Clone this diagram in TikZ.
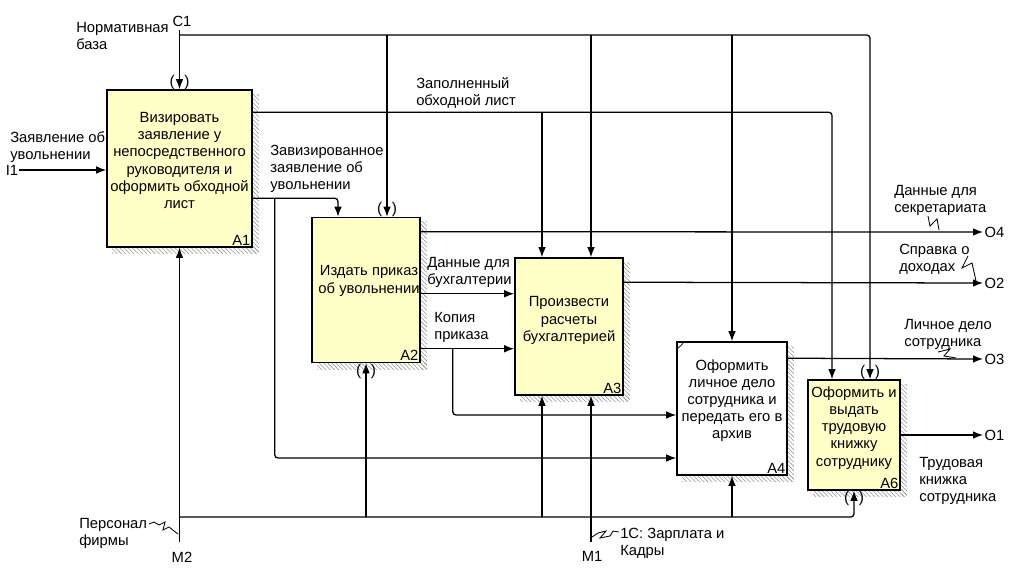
\documentclass[tikz,border=0pt]{standalone}
\usepackage{fontspec}
\setmainfont{Liberation Sans}
\usetikzlibrary{arrows.meta,calc,patterns,positioning,backgrounds}
\definecolor{idefyellow}{RGB}{255,255,200}
\tikzset{
  box/.style={draw, line width=1.1pt, fill=idefyellow, inner sep=0pt},
  boxtext/.style={align=center, inner sep=0pt},
  lbl/.style={align=left, anchor=north west, inner sep=0pt},
  idx/.style={anchor=south east, inner sep=1.5pt},
  flow/.style={line width=0.9pt, -{Latex[length=2.5mm,width=1.9mm]}, rounded corners=0.8mm},
  tunnel/.style={inner sep=0pt, font=\fontsize{11}{11}\selectfont},
  hatch/.style={pattern=north west lines, pattern color=gray!80},
  squig/.style={line width=0.6pt},
}

\begin{document}
\begin{tikzpicture}[x=0.25mm, y=-0.25mm, font=\fontsize{10.5}{12.2}\selectfont]
\useasboundingbox (0,0) rectangle (1010,571);

% functions
\node[box, minimum width=36.25mm, minimum height=39.25mm] (A1) at (179.5,168.5) {};
\node[box, minimum width=27mm, minimum height=36.25mm] (A2) at (366,290) {};
\node[box, minimum width=27mm, minimum height=34.25mm] (A3) at (569,326.5) {};
\node[box, fill=white, minimum width=27.5mm, minimum height=33.25mm] (A4) at (732,408.5) {};
\node[box, minimum width=23mm, minimum height=27.5mm] (A6) at (854,435) {};

\begin{scope}[on background layer]
  \foreach \b in {A1,A2,A3,A4,A6} {
    \fill[hatch] ($(\b.north east)+(0,5)$) rectangle ($(\b.south east)+(6,6)$);
    \fill[hatch] ($(\b.south west)+(6,0)$) rectangle ($(\b.south east)+(6,6)$);
  }
\end{scope}

\node[boxtext] (t1) at ($(A1.center)+(0,-8)$) {Визировать\\заявление у\\непосредственного\\руководителя и\\оформить обходной\\лист};
\node[boxtext] (t2) at ($(A2.center)+(3,-9)$) {Издать приказ\\об увольнении};
\node[boxtext] (t3) at ($(A3.center)+(0,-6)$) {Произвести\\расчеты\\бухгалтерией};
\node[boxtext] (t4) at ($(A4.center)+(0,-8)$) {Оформить\\личное дело\\сотрудника и\\передать его в\\архив};
\node[boxtext] (t6) at ($(A6.center)+(0,-7)$) {Оформить и\\выдать\\трудовую\\книжку\\сотруднику};
\foreach \b in {A1,A2,A3,A4,A6}
  \node[idx] at (\b.south east) {\b};
\draw[line width=0.5pt] ($(A4.north west)+(2,7)$) -- ($(A4.north west)+(7,2)$);

% boundary points
\coordinate (c1) at (179.5,30);
\coordinate (c1j) at (179.5,35);
\coordinate (i1) at (19,170);
\coordinate (m2) at (179.5,542);
\coordinate (m2j) at (179.5,517);
\coordinate (m1) at (591,542);
\coordinate (o4) at (983,232);
\coordinate (o2) at (983,283);
\coordinate (o3) at (983,359);
\coordinate (o1) at (983,435);

% controls
\draw[flow] (c1) -- (A1.north);
\draw[flow] (c1j) -| ($(A6.north)+(16,0)$);
\foreach \b/\dx in {A2/21, A3/22, A4/0}
  \draw[flow] ($(\b.north |- c1j)+(\dx,0)$) -- ($(\b.north)+(\dx,0)$);

% inputs and outputs
\draw[flow] (i1) -- (i1 -| A1.west);
\coordinate (fill) at ($(A1.north east)+(0,23)$);
\draw[flow] (fill) -| ($(A6.north)+(-22,0)$);
\draw[flow] ($(A3.north |- fill)+(-27,0)$) -- ($(A3.north)+(-27,0)$);
\coordinate (viz) at ($(A1.north east)+(0,109)$);
\draw[flow] (viz) -| ($(A2.north)+(-28,0)$);
\draw[flow] ($(viz)+(22,0)$) |- ($(A4.west)+(0,49.5)$);
\draw[flow] ($(A2.north east)+(0,15)$) -- (o4);
\coordinate (bux) at ($(A2.north east)+(0,77)$);
\draw[flow] (bux) -- (bux -| A3.west);
\coordinate (kop) at ($(A2.north east)+(0,132)$);
\draw[flow] (kop) -- (kop -| A3.west);
\draw[flow] ($(kop)+(32,0)$) |- ($(A4.west)+(0,6.5)$);
\draw[flow] ($(A3.north east)+(0,25)$) -- (o2);
\draw[flow] ($(A4.north east)+(0,17)$) -- (o3);
\draw[flow] (A6.east) -- (o1);

% mechanisms
\draw[flow] (m2) -- (A1.south);
\draw[flow] (m2j) -| (A6.south);
\foreach \b/\dx in {A2/0, A3/-27, A4/0}
  \draw[flow] ($(\b.south |- m2j)+(\dx,0)$) -- ($(\b.south)+(\dx,0)$);
\draw[flow] (m1) -- (m1 |- A3.south);

% tunnels
\node[tunnel] at ($(A1.north)+(0,-7)$) {(\hspace{2.4mm})};
\node[tunnel] at ($(A2.north)+(21,-7)$) {(\hspace{2.4mm})};
\node[tunnel] at ($(A2.south)+(0,8)$) {(\hspace{2.4mm})};
\node[tunnel] at ($(A6.north)+(16,-7)$) {(\hspace{2.4mm})};
\node[tunnel] at ($(A6.south)+(0,8)$) {(\hspace{2.4mm})};

% labels
\node at (182,21) {C1};
\node at (12,170) {I1};
\node at (182,557) {M2};
\node at (592,556) {M1};
\node[anchor=west, inner sep=1pt] at (o4) {O4};
\node[anchor=west, inner sep=1pt] at (o2) {O2};
\node[anchor=west, inner sep=1pt] at (o3) {O3};
\node[anchor=west, inner sep=1pt] at (o1) {O1};
\node[lbl] at (76,22) {Нормативная\\база};
\node[lbl] at (10,131) {Заявление об\\увольнении};
\node[lbl] at (270,145) {Завизированное\\заявление об\\увольнении};
\node[lbl] at (416,77) {Заполненный\\обходной лист};
\node[lbl] at (427,257) {Данные для\\бухгалтерии};
\node[lbl] at (434,312) {Копия\\приказа};
\node[lbl] at (894,185) {Данные для\\секретариата};
\node[lbl] at (899,244) {Справка о\\доходах};
\node[lbl] at (904,319) {Личное дело\\сотрудника};
\node[lbl] at (919,457) {Трудовая\\книжка\\сотрудника};
\node[lbl] at (79,518) {Персонал\\фирмы};
\node[lbl] at (620,528) {1С: Зарплата и\\Кадры};

% squiggles
\draw[squig] (928,216) -- (930,226) -- (937,219) -- (939,230);
\draw[squig] (968,256) -- (962,268) -- (972,263) -- (976,281);
\draw[squig] (938,352) -- (950,349) -- (944,356) -- (956,358);
\draw[squig] (149,524) -- (154,522) -- (159,525) -- (165,522) -- (163,530) -- (169,527) -- (178,534);
\draw[squig] (592,537) -- (598,533) -- (606,531) -- (600,538) -- (610,536) -- (613,531) -- (619,532);
\end{tikzpicture}
\end{document}
